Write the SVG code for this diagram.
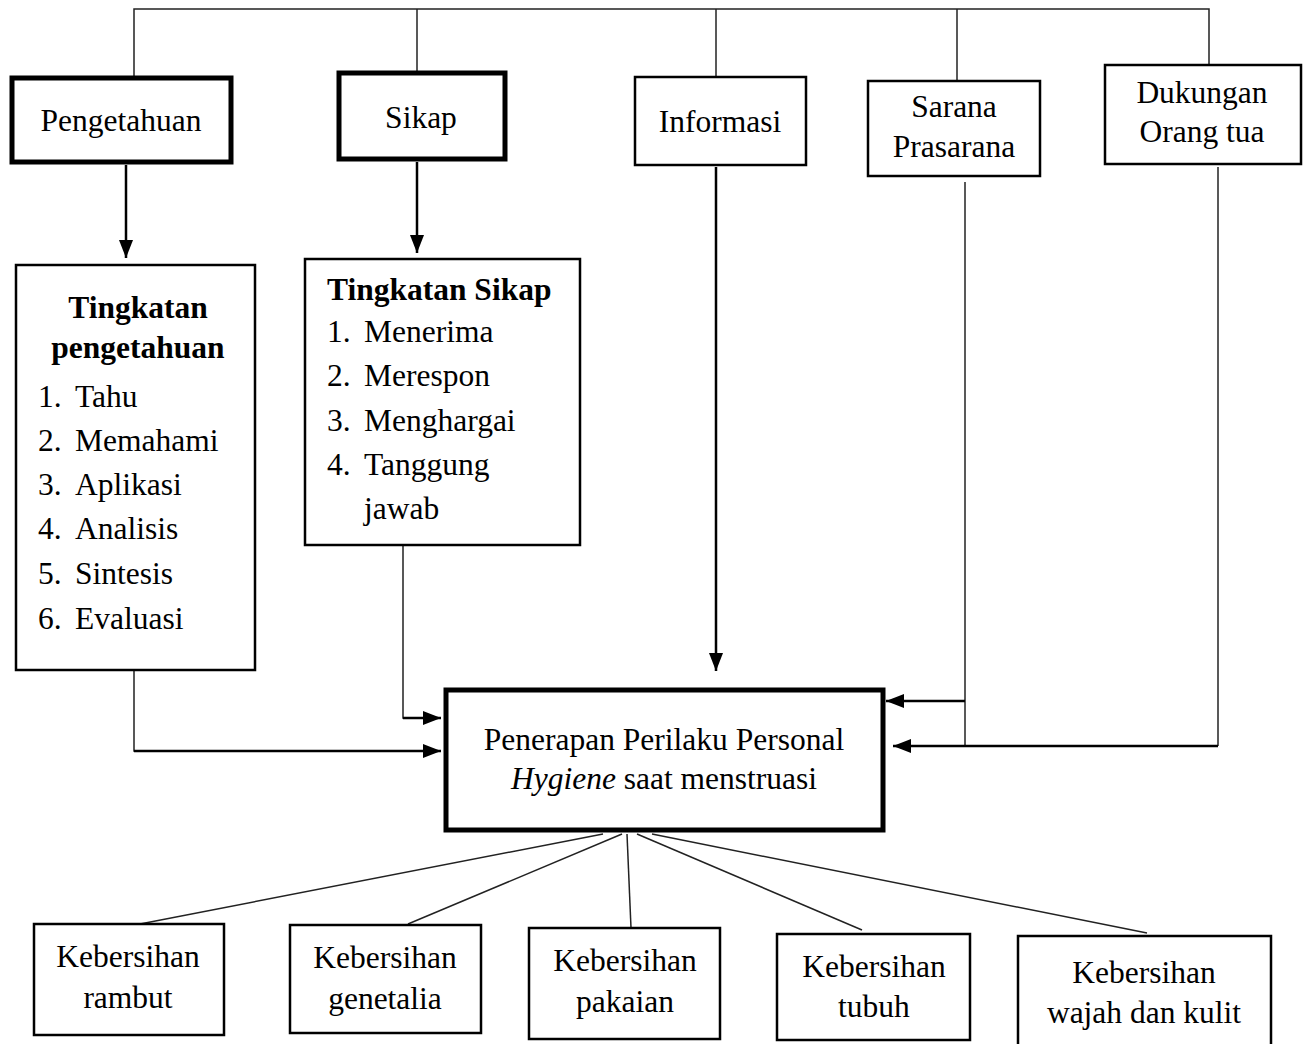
<svg xmlns="http://www.w3.org/2000/svg" width="1311" height="1044" viewBox="0 0 1311 1044">
<style>
text{font-family:"Liberation Serif","Times New Roman",serif;font-size:31.5px;fill:#000}
.c{text-anchor:middle}
.b{font-weight:bold}
.thick{fill:#fff;stroke:#000;stroke-width:5}
.thin{fill:#fff;stroke:#000;stroke-width:2.5}
.ln{fill:none;stroke:#222;stroke-width:1.5}
.ar{fill:none;stroke:#000;stroke-width:2.5}
</style>
<defs>
<marker id="ah" markerUnits="userSpaceOnUse" markerWidth="18" markerHeight="14" refX="18" refY="7" orient="auto">
<path d="M0,0 L18,7 L0,14 z" fill="#000"/>
</marker>
</defs>
<rect width="1311" height="1044" fill="#fff"/>
<g id="connectors">
<polyline class="ln" points="134,76 134,9 1209,9 1209,64"/>
<line class="ln" x1="417" y1="9" x2="417" y2="71"/>
<line class="ln" x1="716" y1="9" x2="716" y2="76"/>
<line class="ln" x1="957" y1="9" x2="957" y2="80"/>
<line class="ar" x1="126" y1="165" x2="126" y2="258" marker-end="url(#ah)"/>
<line class="ar" x1="417" y1="162" x2="417" y2="253" marker-end="url(#ah)"/>
<line class="ar" x1="716" y1="167" x2="716" y2="671" marker-end="url(#ah)"/>
<polyline class="ln" points="134,670 134,751 200,751"/>
<line class="ar" x1="134" y1="751" x2="441" y2="751" marker-end="url(#ah)"/>
<polyline class="ln" points="403,545 403,718 410,718"/>
<line class="ar" x1="403" y1="718" x2="441" y2="718" marker-end="url(#ah)"/>
<line class="ln" x1="965" y1="182" x2="965" y2="746"/>
<line class="ar" x1="965" y1="701" x2="886" y2="701" marker-end="url(#ah)"/>
<line class="ln" x1="1218" y1="167" x2="1218" y2="746"/>
<line class="ar" x1="1218" y1="746" x2="893" y2="746" marker-end="url(#ah)"/>
<line class="ln" x1="603" y1="834" x2="140" y2="924"/>
<line class="ln" x1="622" y1="834" x2="408" y2="924"/>
<line class="ln" x1="627" y1="834" x2="631" y2="928"/>
<line class="ln" x1="637" y1="834" x2="862" y2="930"/>
<line class="ln" x1="652" y1="834" x2="1147" y2="933"/>
</g>
<g id="pengetahuan">
<rect class="thick" x="12" y="78" width="219" height="84"/>
<text class="c" x="121" y="131">Pengetahuan</text>
</g>
<g id="sikap">
<rect class="thick" x="339" y="73" width="166" height="86"/>
<text class="c" x="421" y="128">Sikap</text>
</g>
<g id="informasi">
<rect class="thin" x="635" y="77" width="171" height="88"/>
<text class="c" x="720" y="132">Informasi</text>
</g>
<g id="sarana">
<rect class="thin" x="868" y="81" width="172" height="95"/>
<text class="c" x="954" y="117">Sarana</text>
<text class="c" x="954" y="157">Prasarana</text>
</g>
<g id="dukungan">
<rect class="thin" x="1105" y="65" width="196" height="99"/>
<text class="c" x="1202" y="103">Dukungan</text>
<text class="c" x="1202" y="142">Orang tua</text>
</g>
<g id="tingkatan-pengetahuan">
<rect class="thin" x="16" y="265" width="239" height="405"/>
<text class="c b" x="138" y="318">Tingkatan</text>
<text class="c b" x="138" y="358">pengetahuan</text>
<text x="38" y="407">1.</text><text x="75" y="407">Tahu</text>
<text x="38" y="451">2.</text><text x="75" y="451">Memahami</text>
<text x="38" y="495">3.</text><text x="75" y="495">Aplikasi</text>
<text x="38" y="539">4.</text><text x="75" y="539">Analisis</text>
<text x="38" y="584">5.</text><text x="75" y="584">Sintesis</text>
<text x="38" y="629">6.</text><text x="75" y="629">Evaluasi</text>
</g>
<g id="tingkatan-sikap">
<rect class="thin" x="305" y="259" width="275" height="286"/>
<text class="b" x="327" y="300">Tingkatan Sikap</text>
<text x="327" y="342">1.</text><text x="364" y="342">Menerima</text>
<text x="327" y="386">2.</text><text x="364" y="386">Merespon</text>
<text x="327" y="431">3.</text><text x="364" y="431">Menghargai</text>
<text x="327" y="475">4.</text><text x="364" y="475">Tanggung</text>
<text x="364" y="519">jawab</text>
</g>
<g id="penerapan">
<rect class="thick" x="446" y="690" width="437" height="140"/>
<text class="c" x="664" y="750">Penerapan Perilaku Personal</text>
<text class="c" x="664" y="789"><tspan font-style="italic">Hygiene</tspan> saat menstruasi</text>
</g>
<g id="rambut">
<rect class="thin" x="34" y="924" width="190" height="111"/>
<text class="c" x="128" y="967">Kebersihan</text>
<text class="c" x="128" y="1008">rambut</text>
</g>
<g id="genetalia">
<rect class="thin" x="290" y="925" width="191" height="108"/>
<text class="c" x="385" y="968">Kebersihan</text>
<text class="c" x="385" y="1009">genetalia</text>
</g>
<g id="pakaian">
<rect class="thin" x="529" y="928" width="191" height="111"/>
<text class="c" x="625" y="971">Kebersihan</text>
<text class="c" x="625" y="1012">pakaian</text>
</g>
<g id="tubuh">
<rect class="thin" x="777" y="934" width="193" height="106"/>
<text class="c" x="874" y="977">Kebersihan</text>
<text class="c" x="874" y="1017">tubuh</text>
</g>
<g id="wajah">
<rect class="thin" x="1018" y="936" width="253" height="112"/>
<text class="c" x="1144" y="983">Kebersihan</text>
<text class="c" x="1144" y="1023">wajah dan kulit</text>
</g>
</svg>
